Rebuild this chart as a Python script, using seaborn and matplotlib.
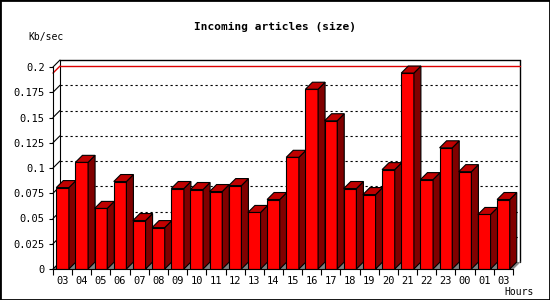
import numpy as np
import pandas as pd
import matplotlib
matplotlib.use("Agg")
import matplotlib.pyplot as plt
import seaborn as sns
from matplotlib.patches import Polygon, Rectangle

hours = ["03", "04", "05", "06", "07", "08", "09", "10", "11", "12", "13", "14",
         "15", "16", "17", "18", "19", "20", "21", "22", "23", "00", "01", "03"]
values = [0.0806, 0.1056, 0.0600, 0.0866, 0.0480, 0.0410, 0.0797, 0.0787,
          0.0767, 0.0826, 0.0560, 0.0688, 0.1106, 0.1780, 0.1468, 0.0797,
          0.0737, 0.0984, 0.1940, 0.0885, 0.1200, 0.0964, 0.0540, 0.0688]
title = "Incoming articles (size)"
y_label = "Kb/sec"
x_label = "Hours"
y_ticks = [0, 0.025, 0.05, 0.075, 0.1, 0.125, 0.15, 0.175, 0.2]
y_tick_labels = ["0", "0.025", "0.05", "0.075", "0.1", "0.125", "0.15", "0.175", "0.2"]

sns.set_theme(style="white")
plt.rcParams["font.family"] = ["DejaVu Sans Mono"]

W, H = 550, 300
fig = plt.figure(figsize=(W / 100, H / 100), dpi=100)
fig.patch.set_facecolor("white")
ax = fig.add_axes([53 / W, 31 / H, 460 / W, 202 / H])
ax.set_facecolor("none")

df = pd.DataFrame({"slot": list(range(len(hours))), "value": values})
sns.barplot(data=df, x="slot", y="value", color="#ff0000", saturation=1,
            width=0.66, edgecolor="black", linewidth=0.8, ax=ax)

n = len(hours)
ax.set_xlim(-0.5, n - 0.5)
ax.set_ylim(y_ticks[0], y_ticks[-1])
ymax = y_ticks[-1]

# depth offset (7 px right / 7 px up) in data units
dx = 7 * n / 460
dy = 7 * ymax / 202
xl, xr = -0.5, n - 0.5

# back wall frame, floor, gridlines
ax.add_patch(Polygon([(xl, 0), (xr, 0), (xr + dx, dy), (xl + dx, dy)],
                     closed=True, facecolor="#808080", edgecolor="none",
                     zorder=1, clip_on=False))
for v in y_ticks[1:-1]:
    ax.plot([xl + dx, xr + dx], [v + dy, v + dy], color="black", lw=0.8,
            ls=(0, (2, 2.5)), zorder=1, clip_on=False)
for v in y_ticks[:-1]:
    ax.plot([xl, xl + dx], [v, v + dy], color="black", lw=0.8, zorder=1, clip_on=False)
ax.plot([xl + dx, xl + dx], [dy, ymax + dy], color="black", lw=0.8, zorder=1, clip_on=False)
ax.plot([xl + dx, xr + dx], [ymax + dy, ymax + dy], color="black", lw=1.0, zorder=1, clip_on=False)
ax.plot([xr + dx, xr + dx], [dy, ymax + dy], color="black", lw=1.0, zorder=1, clip_on=False)
ax.plot([xl, xl + dx], [ymax, ymax + dy], color="black", lw=0.8, zorder=1, clip_on=False)
ax.plot([xr, xr + dx], [0, dy], color="#909090", lw=0.8, zorder=1, clip_on=False)

# max line
m = max(values)
ax.plot([xl + dx, xr + dx], [m + dy, m + dy], color="#dd0000", lw=1.0, zorder=1.5, clip_on=False)
ax.plot([xl, xl + dx], [m, m + dy], color="#dd0000", lw=1.0, zorder=1.5, clip_on=False)

# 3D sides and tops
for i, p in enumerate(ax.patches[:n]):
    x0, w, h = p.get_x(), p.get_width(), p.get_height()
    z = 10 + 3 * i
    p.set_zorder(z)
    ax.add_patch(Polygon([(x0 + w, 0), (x0 + w + dx, dy), (x0 + w + dx, h + dy), (x0 + w, h)],
                         closed=True, facecolor="#800000", edgecolor="black",
                         lw=0.8, zorder=z + 1, clip_on=False))
    ax.add_patch(Polygon([(x0, h), (x0 + dx, h + dy), (x0 + w + dx, h + dy), (x0 + w, h)],
                         closed=True, facecolor="#c00000", edgecolor="black",
                         lw=0.8, zorder=z + 2, clip_on=False))

# axes styling
for s in ["top", "right"]:
    ax.spines[s].set_visible(False)
for s in ["left", "bottom"]:
    ax.spines[s].set_color("black")
    ax.spines[s].set_linewidth(0.8)
    ax.spines[s].set_zorder(200)

ax.set_xlabel("")
ax.set_ylabel("")
ax.set_xticks(range(n))
ax.set_xticklabels(hours)
ax.set_xticks(np.arange(-0.5, n, 1), minor=True)
ax.set_yticks(y_ticks)
ax.set_yticklabels(y_tick_labels)
ax.tick_params(axis="x", which="major", bottom=True, length=0, pad=5,
               labelsize=7.5, colors="black")
ax.tick_params(axis="x", which="minor", bottom=True, length=4, width=0.8,
               color="black", direction="out")
ax.tick_params(axis="y", which="major", left=True, length=3, width=0.8,
               pad=3, labelsize=7.5, colors="black", direction="out")

fig.text(275 / W, 1 - 27 / H, title, ha="center", va="center",
         fontsize=8, fontweight="bold", color="black")
fig.text(28 / W, 1 - 37 / H, y_label, ha="left", va="center",
         fontsize=7, color="black")
fig.text(519 / W, 1 - 292 / H, x_label, ha="center", va="center",
         fontsize=7, color="black")

fig.patches.append(Rectangle((0, 0), 1, 1, transform=fig.transFigure,
                             fill=False, edgecolor="black", lw=2))

fig.savefig("out.png", dpi=100)
